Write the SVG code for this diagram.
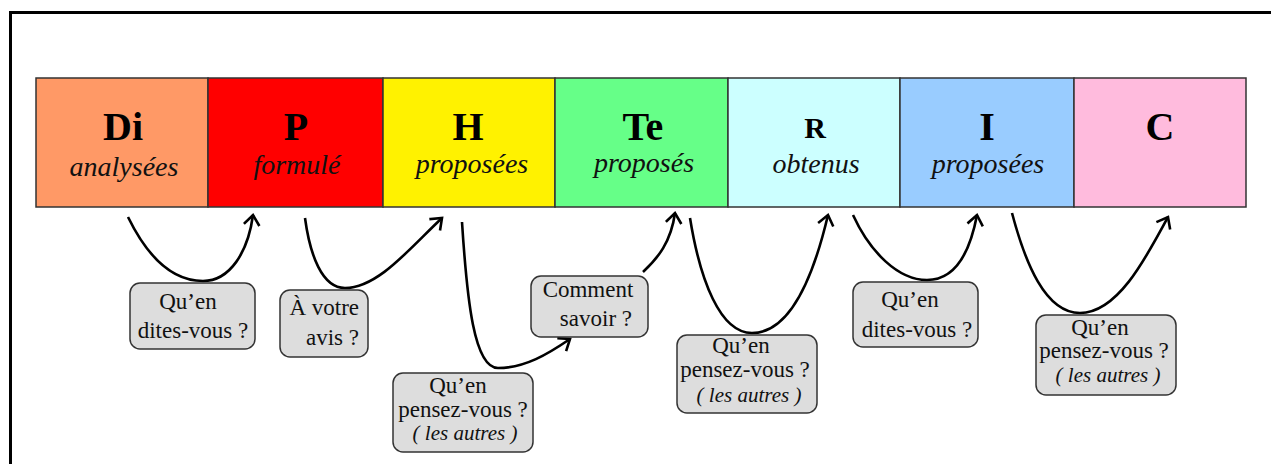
<svg xmlns="http://www.w3.org/2000/svg" width="1271" height="464" viewBox="0 0 1271 464">
<defs>
<marker id="arr" markerUnits="userSpaceOnUse" markerWidth="20" markerHeight="20" viewBox="-12 -10 16 20" refX="0" refY="0" orient="auto" overflow="visible">
<path d="M-9,-7 L0,0 L-9,7" fill="none" stroke="#000" stroke-width="2.6" stroke-linecap="square"/>
</marker>
</defs>
<style>
.cell{stroke:#333;stroke-width:1.5}
.big{font-family:"Liberation Serif",serif;font-weight:bold;font-size:40px;text-anchor:middle;fill:#000}
.sub{font-family:"Liberation Serif",serif;font-style:italic;font-size:28px;text-anchor:middle;fill:#111}
.box{fill:#DDDDDD;stroke:#333;stroke-width:1.5}
.t{font-family:"Liberation Serif",serif;font-size:23px;fill:#111;text-anchor:middle}
.ti{font-family:"Liberation Serif",serif;font-style:italic;font-size:21px;fill:#111;text-anchor:middle}
.c{fill:none;stroke:#000;stroke-width:2.6;marker-end:url(#arr)}
</style>
<rect x="0" y="0" width="1271" height="464" fill="#fff"/>
<rect x="10.5" y="12.5" width="1300" height="500" fill="none" stroke="#000" stroke-width="3"/>

<g id="node-Di"><rect class="cell" x="36" y="78" width="172" height="129" fill="#FF9966"/><text class="big" x="123" y="140">Di</text><text class="sub" x="124" y="176">analysées</text></g>
<g id="node-P"><rect class="cell" x="208" y="78" width="175" height="129" fill="#FF0000"/><text class="big" x="296" y="140">P</text><text class="sub" x="297" y="174">formulé</text></g>
<g id="node-H"><rect class="cell" x="383" y="78" width="172" height="129" fill="#FFF200"/><text class="big" x="468" y="140">H</text><text class="sub" x="472" y="173">proposées</text></g>
<g id="node-Te"><rect class="cell" x="555" y="78" width="173" height="129" fill="#66FF88"/><text class="big" x="643" y="140">Te</text><text class="sub" x="644" y="172">proposés</text></g>
<g id="node-R"><rect class="cell" x="728" y="78" width="172" height="129" fill="#CCFFFF"/><text class="big" x="815" y="138" style="font-size:30px">R</text><text class="sub" x="816" y="173">obtenus</text></g>
<g id="node-I"><rect class="cell" x="900" y="78" width="174" height="129" fill="#99CCFF"/><text class="big" x="987" y="140">I</text><text class="sub" x="988" y="173">proposées</text></g>
<g id="node-C"><rect class="cell" x="1074" y="78" width="172" height="129" fill="#FFBBDD"/><text class="big" x="1160" y="140">C</text></g>

<g id="connectors">
<path class="c" d="M128,217 C150,262 175,281 203,281 C230,281 248,252 253,215"/>
<path class="c" d="M305,218 C310,255 322,288 345,288 C378,288 410,248 442,218"/>
<path class="c" d="M462,222 C467,300 474,368 498,368 C525,368 548,354 570,339"/>
<path class="c" d="M643,272 C658,258 671,242 675,213"/>
<path class="c" d="M690,218 C700,280 720,333 752,333 C792,333 815,270 828,215"/>
<path class="c" d="M853,215 C870,252 898,280 927,280 C955,280 970,252 977,215"/>
<path class="c" d="M1012,213 C1025,262 1045,313 1080,313 C1117,313 1145,260 1168,217"/>
</g>

<g id="q1"><rect class="box" x="130" y="283" width="125" height="66" rx="10"/><text class="t" x="188" y="309">Qu’en</text><text class="t" x="193" y="338">dites-vous ?</text></g>
<g id="q2"><rect class="box" x="280" y="290" width="88" height="67" rx="10"/><text class="t" x="359" y="315" style="text-anchor:end">À votre</text><text class="t" x="359" y="345" style="text-anchor:end">avis ?</text></g>
<g id="q3"><rect class="box" x="393" y="373" width="140" height="79" rx="10"/><text class="t" x="458" y="393">Qu’en</text><text class="t" x="463" y="417">pensez-vous ?</text><text class="ti" x="465" y="440">( les autres )</text></g>
<g id="q4"><rect class="box" x="531" y="276" width="117" height="61" rx="10"/><text class="t" x="588" y="297">Comment</text><text class="t" x="632" y="326" style="text-anchor:end">savoir ?</text></g>
<g id="q5"><rect class="box" x="677" y="335" width="140" height="78" rx="10"/><text class="t" x="741" y="353">Qu’en</text><text class="t" x="745" y="377">pensez-vous ?</text><text class="ti" x="749" y="402">( les autres )</text></g>
<g id="q6"><rect class="box" x="853" y="282" width="125" height="65" rx="10"/><text class="t" x="910" y="307">Qu’en</text><text class="t" x="917" y="337">dites-vous ?</text></g>
<g id="q7"><rect class="box" x="1036" y="315" width="140" height="80" rx="10"/><text class="t" x="1100" y="335">Qu’en</text><text class="t" x="1104" y="358">pensez-vous ?</text><text class="ti" x="1108" y="382">( les autres )</text></g>
</svg>
